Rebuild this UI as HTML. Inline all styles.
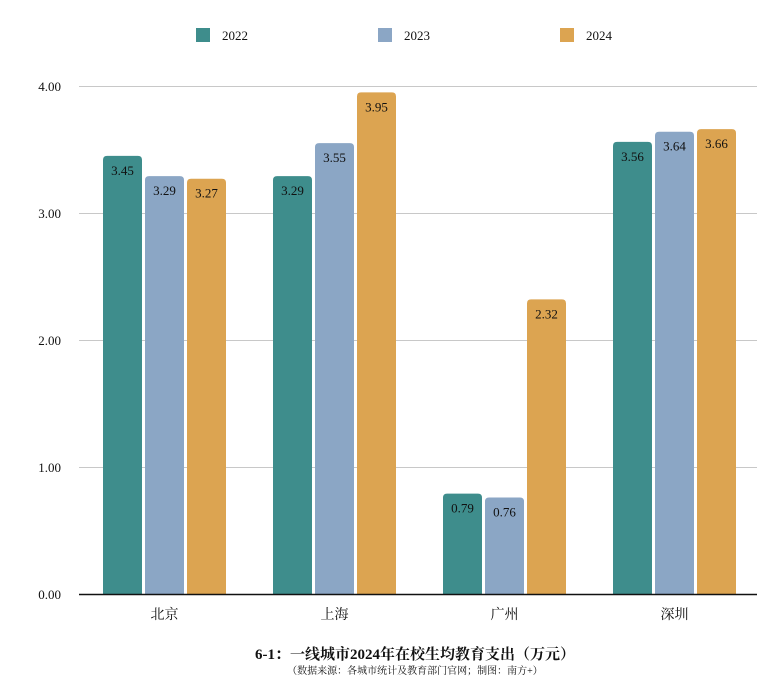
<!DOCTYPE html>
<html><head><meta charset="utf-8"><style>
body{margin:0;background:#fff}
text{font-family:"Liberation Serif","Noto Serif CJK SC",serif;fill:#111}
</style></head><body>
<svg width="782" height="690" xmlns="http://www.w3.org/2000/svg">
<g font-size="13">
<rect x="196" y="28" width="14" height="14" fill="#3e8d8c"/><text x="222" y="40">2022</text>
<rect x="378" y="28" width="14" height="14" fill="#8ba6c5"/><text x="404" y="40">2023</text>
<rect x="560" y="28" width="14" height="14" fill="#dca451"/><text x="586" y="40">2024</text>
</g>
<g stroke="#c8c8c8" stroke-width="1">
<line x1="79" y1="86.5" x2="757" y2="86.5"/>
<line x1="79" y1="213.5" x2="757" y2="213.5"/>
<line x1="79" y1="340.5" x2="757" y2="340.5"/>
<line x1="79" y1="467.5" x2="757" y2="467.5"/>
</g>
<g font-size="13" text-anchor="end">
<text x="61" y="91">4.00</text><text x="61" y="218">3.00</text><text x="61" y="345">2.00</text><text x="61" y="472">1.00</text><text x="61" y="599">0.00</text>
</g>
<g id="bars" font-size="13" text-anchor="middle"></g>
<line x1="79" y1="594.5" x2="757" y2="594.5" stroke="#111" stroke-width="1.5"/>
<g font-size="14" text-anchor="middle">
<text x="164.5" y="619">北京</text><text x="334.5" y="619">上海</text><text x="504.5" y="619">广州</text><text x="674.5" y="619">深圳</text>
</g>
<text x="415" y="659" font-size="15" font-weight="bold" text-anchor="middle">6-1：一线城市2024年在校生均教育支出（万元）</text>
<text x="415" y="674" font-size="10" text-anchor="middle">（数据来源：各城市统计及教育部门官网；制图：南方+）</text>
</svg>
<script>
var d=[[3.45,3.29,3.27],[3.29,3.55,3.95],[0.79,0.76,2.32],[3.56,3.64,3.66]];
var c=["#3e8d8c","#8ba6c5","#dca451"];var g=document.getElementById("bars");var s="";
for(var i=0;i<4;i++)for(var j=0;j<3;j++){var x=103+170*i+42*j,h=d[i][j]*127,y=594-h,r=4;
s+='<path d="M'+x+' 594V'+(y+r)+'Q'+x+' '+y+' '+(x+r)+' '+y+'H'+(x+39-r)+'Q'+(x+39)+' '+y+' '+(x+39)+' '+(y+r)+'V594Z" fill="'+c[j]+'"/>';
s+='<text x="'+(x+19.5)+'" y="'+(y+19)+'">'+d[i][j].toFixed(2)+'</text>';}
g.innerHTML=s;
</script>
</body></html>
